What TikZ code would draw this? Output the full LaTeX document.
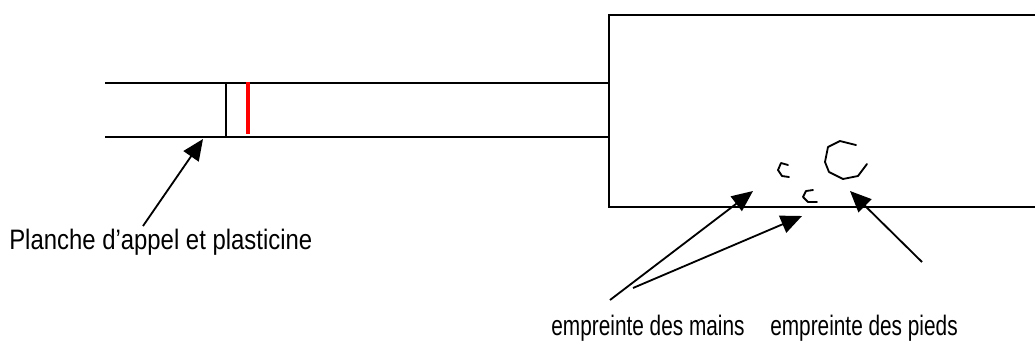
\documentclass[tikz,border=0pt]{standalone}
\usepackage{fontspec}
\setmainfont{Liberation Sans}[FakeStretch=0.85]
\newfontfamily\serree{Liberation Sans}[FakeStretch=0.74]
\usetikzlibrary{arrows.meta}
\tikzset{
  trait/.style={line width=1.4pt},
  fleche/.style={line width=1.3pt,-{Triangle[length=15pt,width=13pt]}},
  legende/.style={font=\fontsize{20}{24}\selectfont,inner sep=0pt},
  empreinte/.style={line width=1.3pt,line join=round,line cap=round}
}
\begin{document}
\begin{tikzpicture}[x=0.025cm,y=-0.025cm]
            \useasboundingbox (0,0) rectangle (1035,345);
            % piste d'elan
            \draw[trait] (105,83) -- (610,83);
            \draw[trait] (105,137) -- (610,137);
            \draw[trait] (226,83) -- (226,137);
            \draw[red,line width=2.6pt] (248,82) -- (248,134);
            % bac de sable
            \draw[trait] (1036,15) -- (609,15) -- (609,207) -- (1036,207);
            % empreintes
            \draw[empreinte] (788,165) -- (781,163) -- (778,170) -- (782,176) -- (789,177);
            \draw[empreinte] (813,190) -- (806,191) -- (803,197) -- (808,202) -- (817,202);
            \draw[empreinte] (856,145) -- (840,141) -- (828,147) -- (825,162) -- (829,172)
                -- (843,179) -- (858,176) -- (867,164);
            % legendes
            \node[legende,anchor=base west] (planche) at (9,249) {Planche d’appel et plasticine};
            \node[legende,anchor=base] (mains) at (648,335) {\serree empreinte des mains};
            \node[legende,anchor=base] (pieds) at (864,335) {\serree empreinte des pieds};
            \coordinate (planche-bout) at (143,226);
            \coordinate (planche-cible) at (203,139);
            \coordinate (mains-bout1) at (610,300);
            \coordinate (mains-cible1) at (753,191);
            \coordinate (mains-bout2) at (633,288);
            \coordinate (mains-cible2) at (802,216);
            \coordinate (pieds-bout) at (922,262);
            \coordinate (pieds-cible) at (850,191);
            \draw[fleche] (planche-bout) -- (planche-cible);
            \draw[fleche] (mains-bout1) -- (mains-cible1);
            \draw[fleche] (mains-bout2) -- (mains-cible2);
            \draw[fleche] (pieds-bout) -- (pieds-cible);
\end{tikzpicture}
\end{document}
